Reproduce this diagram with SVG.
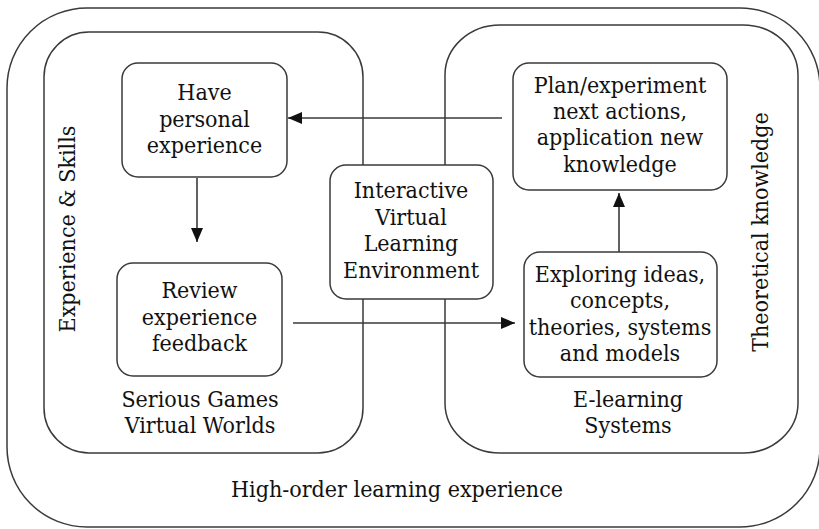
<svg xmlns="http://www.w3.org/2000/svg" width="819" height="529" viewBox="0 0 819 529" font-family="DejaVu Serif Condensed, DejaVu Serif, serif">
<style>
.frame{fill:none;stroke:#3a3a3a;stroke-width:1.5}
.node{fill:#fff;stroke:#3a3a3a;stroke-width:1.5}
.t{font-size:23px;font-stretch:condensed;fill:#111;text-anchor:middle}
.c{stroke:#3a3a3a;stroke-width:1.6;fill:none}
</style>
<defs>
<marker id="ah" viewBox="0 0 14 12" refX="14" refY="6" markerWidth="14" markerHeight="12" markerUnits="userSpaceOnUse" orient="auto">
<path d="M0,0 L14,6 L0,12 Z" fill="#111"/>
</marker>
</defs>
<g id="outer">
<rect class="frame" x="7" y="8" width="813" height="519" rx="80" ry="80"/>
<text class="t" x="397" y="497">High-order learning experience</text>
</g>
<g id="left-area">
<rect class="frame" x="44" y="32" width="319" height="421" rx="45" ry="45"/>
<text class="t" x="200" y="407">Serious Games</text>
<text class="t" x="200" y="433">Virtual Worlds</text>
<text class="t" transform="translate(75,229) rotate(-90)">Experience &amp; Skills</text>
</g>
<g id="right-area">
<rect class="frame" x="445" y="25" width="353" height="428" rx="55" ry="50"/>
<text class="t" x="628" y="407">E-learning</text>
<text class="t" x="628" y="433">Systems</text>
<text class="t" transform="translate(768,232) rotate(-90)">Theoretical knowledge</text>
</g>
<g id="connectors">
<line class="c" x1="197" y1="178" x2="197" y2="242" marker-end="url(#ah)"/>
<line class="c" x1="502" y1="118" x2="288" y2="118" marker-end="url(#ah)"/>
<line class="c" x1="293" y1="323" x2="515" y2="323" marker-end="url(#ah)"/>
<line class="c" x1="619" y1="252" x2="619" y2="193" marker-end="url(#ah)"/>
</g>
<g id="have-personal-experience">
<rect class="node" x="122" y="63" width="165" height="114" rx="16"/>
<text class="t" x="204.5" y="100">Have</text>
<text class="t" x="204.5" y="127">personal</text>
<text class="t" x="204.5" y="153">experience</text>
</g>
<g id="review-experience">
<rect class="node" x="117" y="263" width="165" height="113" rx="16"/>
<text class="t" x="199.5" y="298">Review</text>
<text class="t" x="199.5" y="325">experience</text>
<text class="t" x="199.5" y="351">feedback</text>
</g>
<g id="interactive-environment">
<rect class="node" x="330" y="165" width="163" height="134" rx="16"/>
<text class="t" x="411" y="198">Interactive</text>
<text class="t" x="411" y="224.5">Virtual</text>
<text class="t" x="411" y="251">Learning</text>
<text class="t" x="411" y="277.5">Environment</text>
</g>
<g id="plan-experiment">
<rect class="node" x="513" y="63" width="214" height="127" rx="16"/>
<text class="t" x="620" y="92.5">Plan/experiment</text>
<text class="t" x="620" y="118.5">next actions,</text>
<text class="t" x="620" y="145">application new</text>
<text class="t" x="620" y="171.5">knowledge</text>
</g>
<g id="exploring-ideas">
<rect class="node" x="524" y="252" width="193" height="125" rx="16"/>
<text class="t" x="620" y="281.5">Exploring ideas,</text>
<text class="t" x="620" y="308">concepts,</text>
<text class="t" x="620" y="335">theories, systems</text>
<text class="t" x="620" y="360.5">and models</text>
</g>
</svg>
